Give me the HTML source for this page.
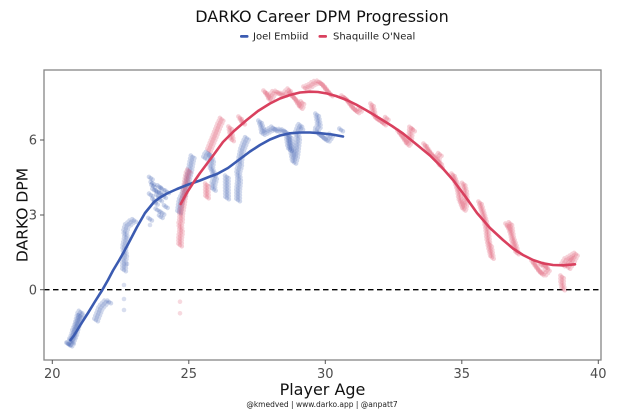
<!DOCTYPE html>
<html><head><meta charset="utf-8">
<style>
html,body{margin:0;padding:0;background:#fff;}
svg{display:block;}
text{font-family:"DejaVu Sans","Liberation Sans",sans-serif;}
.bd{fill:none;stroke:#3b5bb1;stroke-opacity:.24;stroke-width:4.6;stroke-linecap:round;stroke-linejoin:round;stroke-dasharray:0 3;}
.rd{fill:none;stroke:#d9405e;stroke-opacity:.24;stroke-width:4.6;stroke-linecap:round;stroke-linejoin:round;stroke-dasharray:0 3;}
.bc{fill:#3b5bb1;fill-opacity:.24;}
.rc{fill:#d9405e;fill-opacity:.24;}
.bf{fill:#3b5bb1;fill-opacity:.2;}
.rf{fill:#d9405e;fill-opacity:.2;}
</style></head>
<body>
<svg width="640" height="413" viewBox="0 0 640 413" xmlns="http://www.w3.org/2000/svg" xmlns:xlink="http://www.w3.org/1999/xlink">
<rect width="640" height="413" fill="#fff"/>
<!-- title -->
<text x="322" y="22" font-size="16" text-anchor="middle" fill="#111">DARKO Career DPM Progression</text>
<!-- legend -->
<rect x="240" y="35" width="8.5" height="2.8" rx="1.2" fill="#3b5bb1"/>
<text x="253" y="39.5" font-size="10" fill="#222">Joel Embiid</text>
<rect x="318.5" y="35" width="8.5" height="2.8" rx="1.2" fill="#d9405e"/>
<text x="333" y="39.5" font-size="10" fill="#222">Shaquille O'Neal</text>

<!-- zero line -->
<line x1="44" y1="289.7" x2="601" y2="289.7" stroke="#000" stroke-width="1.4" stroke-dasharray="5.5 3.5"/>

<defs>
<g id="bdots">
<path class="bd" d="M68,344 L70,345.5 L72,343 L71,340 L73,336 L74,331 L76,327 L77,323 L78,319 L79,315 L80,312 L82,313 L81,316"/>
<path class="bd" d="M69,344 L71,342 L73,339 L75,334 L77,326 L79,321 L80,316"/>
<path class="bd" d="M96,320 L97,317 L99,312 L100,309 L102,306 L104,304 L106,302 L108,302 L109.5,302"/>
<path class="bd" d="M124,270 L124,262 L125,255 L124,248 L125,243 L126,238 L125,232 L126,228 L127,225 L129,224 L131,222 L133,221 L135,220 L136,219"/>
<circle class="bc" cx="150.7" cy="178.3" r="2.3"/>
<circle class="bc" cx="152.3" cy="183.3" r="2.3"/>
<circle class="bc" cx="154" cy="190" r="2.3"/>
<circle class="bc" cx="150.7" cy="195" r="2.3"/>
<circle class="bc" cx="157.3" cy="191.7" r="2.3"/>
<circle class="bc" cx="159" cy="186.7" r="2.3"/>
<circle class="bc" cx="160.7" cy="193.3" r="2.3"/>
<circle class="bc" cx="162" cy="189" r="2.3"/>
<circle class="bc" cx="158" cy="196" r="2.3"/>
<circle class="bc" cx="155.7" cy="203.3" r="2.3"/>
<circle class="bc" cx="157.3" cy="210" r="2.3"/>
<circle class="bc" cx="162.3" cy="213.3" r="2.3"/>
<circle class="bc" cx="160.7" cy="216.7" r="2.3"/>
<circle class="bc" cx="165.7" cy="206.7" r="2.3"/>
<circle class="bc" cx="164" cy="196.7" r="2.3"/>
<circle class="bc" cx="154" cy="200" r="2.3"/>
<circle class="bc" cx="150" cy="219.3" r="2.3"/>
<circle class="bc" cx="167" cy="192" r="2.3"/>
<circle class="bc" cx="160" cy="200" r="2.3"/>
<circle class="bc" cx="153" cy="186" r="2.3"/>
<path class="bd" d="M179,212 L180,204 L181,199 L183,196 L185,190 L187,184 L188,178 L190,170 L191,164 L192,159 L193,155"/>
<path class="bd" d="M205,158 L207,153 L210,155 L212,160 L211,168 L213,172 L215,178 L213,185 L214,191"/>
<path class="bd" d="M226.7,177 L226.7,188 L227,200"/>
<path class="bd" d="M238,200 L238,190 L239,180 L238,172 L240,165 L240,160 L242,150 L245,142 L247,138"/>
<path class="bd" d="M260,122 L262,128 L263,134 L266,132 L270,130 L273,128 L276,131 L279,130 L284,131 L287,133 L288,140 L289,147 L290,150"/>
<path class="bd" d="M290,137 L291,145 L292,152 L293,158 L294,163 L296,156 L297,147 L298,138 L297,133 L300,125 L302,131"/>
<path class="bd" d="M317,115 L318,120 L319,126 L316,131 L320,135 L323,137 L327,141 L330,137 L332,133"/>
<circle class="bc" cx="341" cy="130" r="2.3"/>
</g>
<g id="rdots">
<path class="rd" d="M180,245 L180,238 L181,231 L180,225 L181,220 L181,214 L182,208 L183,202 L184,196 L185,188 L186,182 L187,176 L188,172 L190,170"/>
<path class="rd" d="M206.7,185 L206.7,192 L207,199"/>
<path class="rd" d="M209,150 L211,145 L213,140 L215,135 L217,130 L219,125 L221,121 L222,118"/>
<path class="rd" d="M230,128 L231,134 L232,140 M240,118 L242,122 L245,125"/>
<path class="rd" d="M265,92 L268,96 L270,100 L273,93 L276,92 L280,94 L284,95 L289,90 L292,96 L296,100 L299,105 L301,108 L303,100"/>
<path class="rd" d="M305,88 L310,86 L314,83 L318,82 L322,84 L325,88 L328,92 L331,95"/>
<path class="rd" d="M343,97 L347,100 L350,104 L353,108 L357,112 L360,110"/>
<path class="rd" d="M372,105 L373,110 L374,115 L377,119 L381,121 L384,124 L387,118"/>
<path class="rd" d="M399,132 L402,136 L405,140 L408,145 L410,140 L411,128 L413,130"/>
<path class="rd" d="M425,145 L428,150 L432,155 L436,160 L440,163 L441,167 L437,158 L441,153"/>
<path class="rd" d="M453,175 L455,180 L457,186 L459,193 L460,200 L462,205 L464,210 L466,200 L465,190 L463,182"/>
<path class="rd" d="M480,203 L482,210 L485,220 L487,230 L488,240 L490,250 L492,258 L490,245"/>
<path class="rd" d="M507,225 L510,230 L512,236 L515,245 L517,253 L513,242 L510,222"/>
<path class="rd" d="M533,262 L537,268 L540,272 L543,275 L546,272 L548,270 L545,265 L540,265"/>
<path class="rd" d="M562,277 L562,283 L563,289"/>
<path class="rd" d="M563,265 L566,260 L570,258 L573,256 L576,254 L572,262 L568,268"/>
</g>
</defs>

<!-- Embiid dots -->
<use href="#bdots" xlink:href="#bdots"/>
<use href="#bdots" xlink:href="#bdots" transform="translate(1.9,1.2)"/>
<use href="#bdots" xlink:href="#bdots" transform="translate(-1.7,-1.4)"/>
<circle class="bf" cx="124" cy="285" r="2.3"/>
<circle class="bf" cx="124" cy="299" r="2.3"/>
<circle class="bf" cx="124" cy="310" r="2.3"/>
<circle class="bf" cx="150" cy="225" r="2.3"/>
<circle class="bf" cx="127" cy="264" r="2.3"/>

<!-- Shaq dots -->
<use href="#rdots" xlink:href="#rdots"/>
<use href="#rdots" xlink:href="#rdots" transform="translate(1.8,1.3)"/>
<use href="#rdots" xlink:href="#rdots" transform="translate(-1.6,-1.5)"/>
<circle class="rf" cx="180" cy="301.7" r="2.3"/>
<circle class="rf" cx="180" cy="313.3" r="2.3"/>

<!-- fitted curves -->
<polyline fill="none" stroke="#3b5bb1" stroke-width="2.6" stroke-linejoin="round" stroke-linecap="round"
points="70.5,340 74,335.5 81,324 88,313 95,301.5 102.3,290 108,280 113,270.5 119,260.5 124,251.7 131,238.5 137,227 145,213 154,202 160,197.5 167,193.5 177,189 187,185 200,180.5 210,176.5 217,174 228,168 240,159 250,151.5 260,145 270,139.5 280,135.5 290,133.3 300,132.5 310,132.5 320,133.2 332,134.5 343,136.5"/>
<polyline fill="none" stroke="#d9405e" stroke-width="2.6" stroke-linejoin="round" stroke-linecap="round"
points="180.7,204 187,192.5 194,181.7 200,173 212,157 223,142 234,131 246.7,120 258,111 270,103.5 280,98.5 290,95 300,92.5 310,91.7 318,92 327,93.5 336,96 346.7,100 356,104.5 366.7,110.5 380,118.5 392,126 403,133.5 416,144 430,155.5 442,167.5 453,180 465,196 477,213 490,228 503,240 513,248.5 523,255 533,260 543,263.3 553,265 563,265.3 575,264.3"/>

<!-- panel border -->
<rect x="44" y="70" width="557" height="290" fill="none" stroke="#858585" stroke-width="1.3"/>

<!-- y ticks -->
<g stroke="#555" stroke-width="1">
<line x1="40" y1="140" x2="44" y2="140"/>
<line x1="40" y1="215" x2="44" y2="215"/>
<line x1="40" y1="289.7" x2="44" y2="289.7"/>
</g>
<g font-size="13" fill="#4d4d4d" text-anchor="end">
<text x="37" y="144.7">6</text>
<text x="37" y="219.7">3</text>
<text x="37" y="294.4">0</text>
</g>
<!-- x ticks -->
<g stroke="#555" stroke-width="1">
<line x1="52.3" y1="360" x2="52.3" y2="364"/>
<line x1="188.8" y1="360" x2="188.8" y2="364"/>
<line x1="325.3" y1="360" x2="325.3" y2="364"/>
<line x1="461.8" y1="360" x2="461.8" y2="364"/>
<line x1="598.3" y1="360" x2="598.3" y2="364"/>
</g>
<g font-size="13" fill="#4d4d4d" text-anchor="middle">
<text x="52.3" y="378">20</text>
<text x="188.8" y="378">25</text>
<text x="325.3" y="378">30</text>
<text x="461.8" y="378">35</text>
<text x="598.3" y="378">40</text>
</g>

<!-- axis titles -->
<text x="322.5" y="395" font-size="16" text-anchor="middle" fill="#111">Player Age</text>
<text transform="translate(27.3,215) rotate(-90)" font-size="15.5" text-anchor="middle" fill="#111">DARKO DPM</text>
<text x="322" y="407" font-size="7.5" text-anchor="middle" fill="#222">@kmedved | www.darko.app | @anpatt7</text>
</svg>
</body></html>
